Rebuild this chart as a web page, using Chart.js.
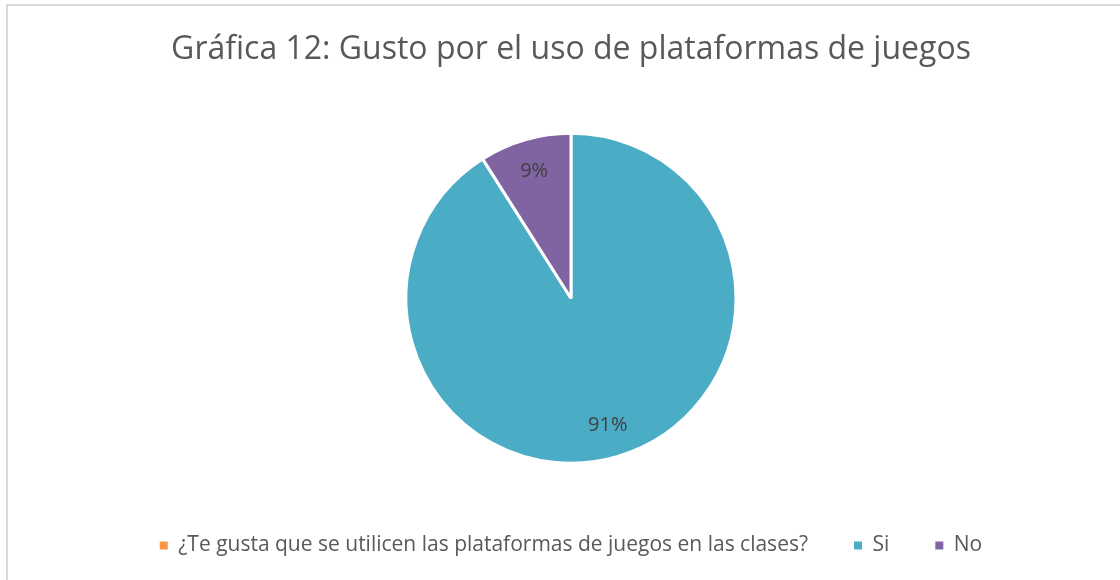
<!DOCTYPE html>
<html lang="es">
<head>
    <meta charset="UTF-8">
    <title>Gráfica 12</title>
    <script src="https://cdn.jsdelivr.net/npm/chart.js"></script>
    <style>
        body { margin: 0; background: #fff; }
        #marco { position: absolute; left: 6px; top: 4px; width: 1200px; height: 700px;
                 border-left: 2px solid #d9d9d9; border-top: 2px solid #d9d9d9; }
        #wrap { position: absolute; left: 0; top: 0; width: 1120px; height: 580px; }
    </style>
</head>
<body>
    <div id="marco"></div>
    <div id="wrap"><canvas id="grafica"></canvas></div>

    <script>
        // datos de la gráfica
        const titulo = 'Gráfica 12: Gusto por el uso de plataformas de juegos';
        const categorias = ['¿Te gusta que se utilicen las plataformas de juegos en las clases?', 'Si', 'No'];
        const valores = [0, 91, 9];
        const colores = ['#F79646', '#4BACC6', '#8064A2'];

        // etiquetas de porcentaje dentro de cada sector
        const etiquetas = {
            id: 'etiquetas',
            afterDatasetsDraw(chart) {
                const ctx = chart.ctx;
                const meta = chart.getDatasetMeta(0);
                const total = valores.reduce((a, b) => a + b, 0);
                ctx.save();
                ctx.font = '20px "Open Sans"';
                ctx.fillStyle = '#404040';
                ctx.textAlign = 'center';
                ctx.textBaseline = 'middle';
                meta.data.forEach((arc, i) => {
                    if (!valores[i]) return;
                    const p = arc.getProps(['x', 'y', 'startAngle', 'endAngle', 'outerRadius'], true);
                    const mid = (p.startAngle + p.endAngle) / 2;
                    const r = p.outerRadius * 0.8;
                    const txt = Math.round(valores[i] / total * 100) + '%';
                    ctx.fillText(txt, p.x + Math.cos(mid) * r, p.y + Math.sin(mid) * r);
                });
                ctx.restore();
            }
        };

        var ctx = document.getElementById('grafica').getContext('2d');
        var grafica = new Chart(ctx, {
            type: 'pie',
            data: {
                labels: categorias,
                datasets: [{
                    data: valores,
                    backgroundColor: colores,
                    borderColor: '#ffffff',
                    borderWidth: 3
                }]
            },
            options: {
                responsive: true,
                maintainAspectRatio: false,
                animation: false,
                radius: 165,
                layout: { padding: { left: 22, right: 0, top: 0, bottom: 14 } },
                plugins: {
                    title: {
                        display: true,
                        text: titulo,
                        color: '#595959',
                        font: { family: 'Open Sans', size: 32, weight: 'normal' },
                        padding: { top: 31, bottom: 38 }
                    },
                    legend: {
                        position: 'bottom',
                        labels: {
                            color: '#595959',
                            font: { family: 'Open Sans', size: 21 },
                            boxWidth: 8,
                            boxHeight: 8,
                            padding: 46,
                            generateLabels(chart) {
                                return Chart.controllers.pie.overrides.plugins.legend.labels.generateLabels(chart)
                                    .map(l => Object.assign(l, { lineWidth: 0, strokeStyle: 'transparent' }));
                            }
                        }
                    },
                    tooltip: { enabled: false }
                }
            },
            plugins: [etiquetas]
        });
    </script>
</body>
</html>
